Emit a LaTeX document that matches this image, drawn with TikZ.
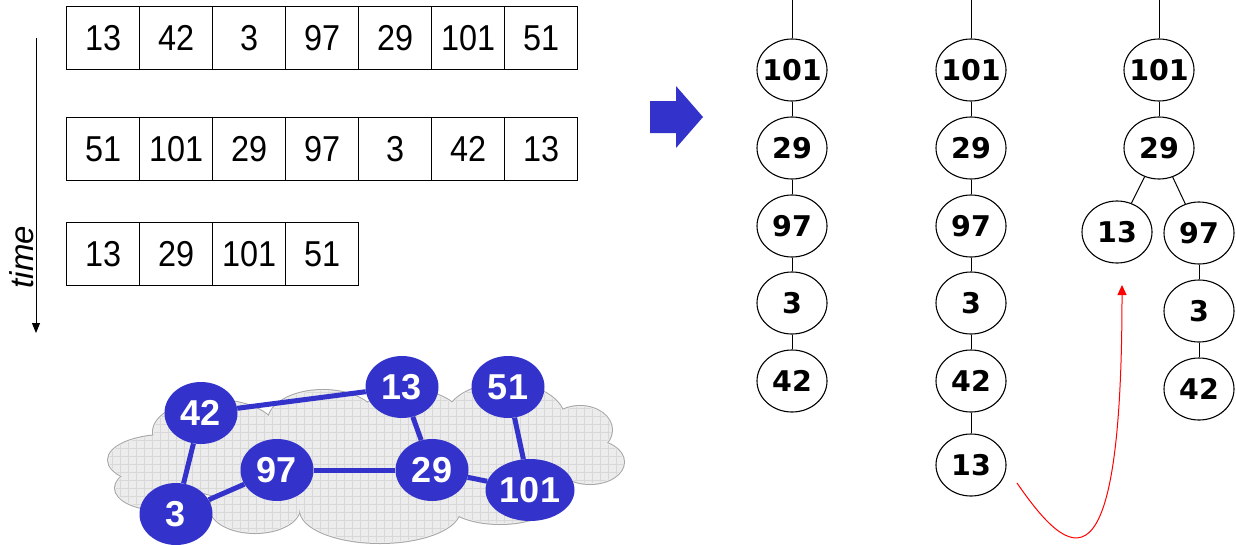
\documentclass[tikz,border=0pt]{standalone}
\usepackage{fontspec}
\setmainfont{Liberation Sans}
\newfontfamily\cellfont[FakeStretch=0.9]{Liberation Sans}
\newfontfamily\treefont{DejaVu Sans}
\usetikzlibrary{arrows.meta,shapes.geometric}
\definecolor{nblue}{RGB}{51,51,204}
\definecolor{cloudfill}{RGB}{236,236,236}
\definecolor{cloudgrid}{RGB}{216,216,216}
\definecolor{cloudline}{RGB}{166,166,166}
\newcommand\zb[1]{\makebox[0pt]{#1}}
\begin{document}
\begin{tikzpicture}[x=1pt,y=-1pt,
  cell/.style={draw, line width=1.2pt, minimum width=73pt, minimum height=62.5pt, inner sep=0pt,
    font=\cellfont\fontsize{36}{38}\selectfont, anchor=north west},
  tn/.style={draw, ellipse, line width=1.1pt, minimum width=70pt, minimum height=62pt, inner sep=0pt,
    font=\treefont\bfseries\fontsize{28.5}{30}\selectfont},
  bn/.style={fill=nblue, ellipse, minimum width=73pt, minimum height=62pt, inner sep=0pt,
    text=white, font=\bfseries\fontsize{36}{38}\selectfont},
  be/.style={nblue, line width=5pt},
  te/.style={line width=1pt}]
\useasboundingbox (0,0) rectangle (1236,544);

% arrays
\foreach \v [count=\i from 0] in {13,42,3,97,29,101,51}
  \node[cell] (ra\i) at (66+73*\i,6) {\v};
\foreach \v [count=\i from 0] in {51,101,29,97,3,42,13}
  \node[cell] (rb\i) at (66+73*\i,117) {\v};
\foreach \v [count=\i from 0] in {13,29,101,51}
  \node[cell] (rc\i) at (66+73*\i,222) {\v};

% time arrow
\coordinate (ts) at (36,38);
\coordinate (tend) at (36,333);
\draw[line width=1pt, -{Triangle[length=10pt,width=8pt]}] (ts) -- (tend);
\node[rotate=90, font=\itshape\fontsize{33}{33}\selectfont] (tl) at (22,257) {time};

% blue block arrow
\fill[nblue] (650,101) -- (676,101) -- (676,86) -- (703,117) -- (676,148) -- (676,133) -- (650,133) -- cycle;

% cloud
\foreach \cx/\cy/\rx/\ry in {165/460/57/25, 215/432/62/32, 323/421/55/31, 410/425/55/35, 505/420/60/37,
  580/430/32/24, 590/462/34/22, 500/500/55/24, 380/510/80/33, 255/508/45/25, 160/488/45/22, 360/465/200/45, 545/455/45/32}
  \draw[cloudline, line width=2pt] (\cx,\cy) ellipse [x radius=\rx, y radius=\ry];
\foreach \cx/\cy/\rx/\ry in {165/460/57/25, 215/432/62/32, 323/421/55/31, 410/425/55/35, 505/420/60/37,
  580/430/32/24, 590/462/34/22, 500/500/55/24, 380/510/80/33, 255/508/45/25, 160/488/45/22, 360/465/200/45, 545/455/45/32}
  \fill[cloudfill] (\cx,\cy) ellipse [x radius=\rx, y radius=\ry];
\begin{scope}
\clip foreach \cx/\cy/\rx/\ry in {165/460/56/24, 215/432/61/31, 323/421/54/30, 410/425/54/34, 505/420/59/36,
  580/430/31/23, 590/462/33/21, 500/500/54/23, 380/510/79/32, 255/508/44/24, 160/488/44/21, 360/465/199/44, 545/455/44/31}
  {(\cx,\cy) ellipse [x radius=\rx, y radius=\ry]};
\draw[cloudgrid, line width=0.6pt, step=8pt] (100,375) grid (630,550);
\end{scope}

% blue graph
\node[bn] (b42) at (201,413) {\zb{42}};
\node[bn] (b13) at (402,387) {\zb{13}};
\node[bn] (b51) at (508,387) {\zb{51}};
\node[bn] (b97) at (277,470) {\zb{97}};
\node[bn] (b29) at (432,470) {\zb{29}};
\node[bn] (b3) at (176,514) {\zb{3}};
\node[bn, minimum width=89pt] (b101) at (530,490) {\zb{101}};
\draw[be] (b42) -- (b13);
\draw[be] (b42) -- (b3);
\draw[be] (b3) -- (b97);
\draw[be] (b97) -- (b29);
\draw[be] (b13) -- (b29);
\draw[be] (b29) -- (b101);
\draw[be] (b51) -- (b101);

% tree column 1
\node[tn] (a1) at (792,70) {\zb{101}};
\node[tn] (a2) at (792,148) {\zb{29}};
\node[tn] (a3) at (792,226) {\zb{97}};
\node[tn] (a4) at (792,303) {\zb{3}};
\node[tn] (a5) at (792,381) {\zb{42}};
\coordinate (a0) at (792,0);
\draw[te] (a0) -- (a1); \draw[te] (a1) -- (a2); \draw[te] (a2) -- (a3);
\draw[te] (a3) -- (a4); \draw[te] (a4) -- (a5);

% tree column 2
\node[tn] (c1) at (971,70) {\zb{101}};
\node[tn] (c2) at (971,148) {\zb{29}};
\node[tn] (c3) at (971,226) {\zb{97}};
\node[tn] (c4) at (971,303) {\zb{3}};
\node[tn] (c5) at (971,381) {\zb{42}};
\node[tn] (c6) at (971,465) {\zb{13}};
\coordinate (c0) at (971,0);
\draw[te] (c0) -- (c1); \draw[te] (c1) -- (c2); \draw[te] (c2) -- (c3);
\draw[te] (c3) -- (c4); \draw[te] (c4) -- (c5); \draw[te] (c5) -- (c6);

% tree column 3
\node[tn] (d1) at (1159,70) {\zb{101}};
\node[tn] (d2) at (1159,148) {\zb{29}};
\node[tn] (d3) at (1117,232) {\zb{13}};
\node[tn] (d4) at (1199,233) {\zb{97}};
\node[tn] (d5) at (1199,311) {\zb{3}};
\node[tn] (d6) at (1199,389) {\zb{42}};
\coordinate (d0) at (1159,0);
\draw[te] (d0) -- (d1); \draw[te] (d1) -- (d2);
\draw[te] (d2) -- (d3); \draw[te] (d2) -- (d4);
\draw[te] (d4) -- (d5); \draw[te] (d5) -- (d6);

% red arrow
\coordinate (rs) at (1017,483);
\coordinate (rt) at (1122,285);
\draw[red, line width=1pt, -{Triangle[length=10pt,width=9pt]}] (rs) .. controls (1070,560) and (1122,600) .. (rt);
\end{tikzpicture}
\end{document}
